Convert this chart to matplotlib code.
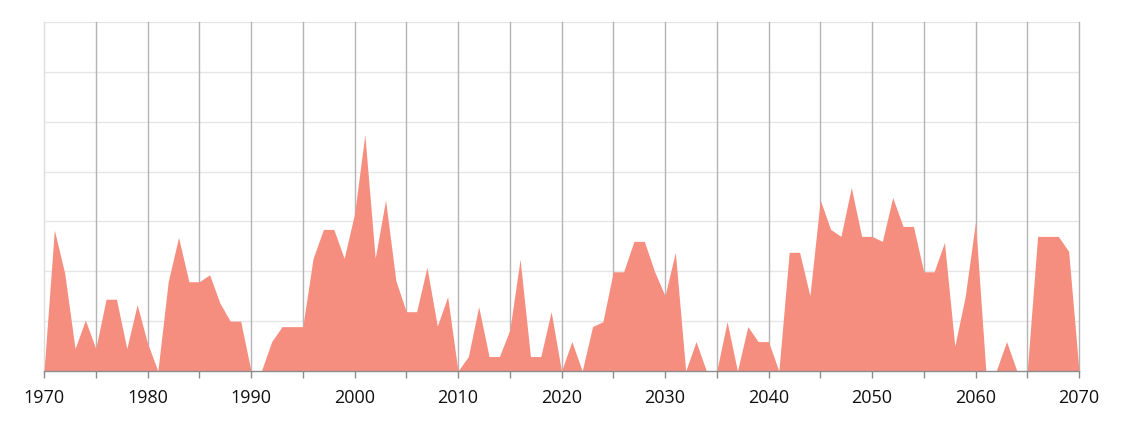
"""Yearly area chart, 1970-2070"""

import numpy as np
from matplotlib import pyplot as plt


years = np.arange(1970, 2071)

# values in grid units (one horizontal gridline = 10)
values = [
    0.0, 28.3, 19.6, 4.5, 10.2, 4.5, 14.4, 14.4, 4.5, 13.3,
    5.6, 0.0, 17.9, 26.8, 17.9, 17.9, 19.3, 13.6, 10.0, 10.0,
    0.0, 0.0, 5.9, 8.9, 8.9, 8.9, 22.6, 28.4, 28.4, 22.6,
    31.5, 47.4, 22.6, 34.3, 18.1, 11.9, 11.9, 20.8, 9.0, 14.9,
    0.0, 2.9, 12.9, 2.9, 2.9, 8.2, 22.4, 2.9, 2.9, 11.9,
    0.0, 5.9, 0.0, 8.9, 9.9, 19.9, 19.9, 26.0, 26.0, 19.9,
    15.1, 23.8, 0.0, 5.9, 0.0, 0.0, 9.9, 0.0, 8.9, 5.9,
    5.9, 0.0, 23.8, 23.8, 15.1, 34.3, 28.4, 27.0, 36.8, 27.0,
    27.0, 26.0, 34.8, 29.0, 29.0, 19.9, 19.9, 25.8, 5.0, 14.9,
    29.9, 0.0, 0.0, 5.9, 0.0, 0.0, 27.0, 27.0, 27.0, 24.0,
    0.0,
]

x_ticks = np.arange(1970, 2071, 5)
x_labels = [str(y) if y % 10 == 0 else "" for y in x_ticks]
y_grid = np.arange(0, 71, 10)

plt.rcParams["font.family"] = ["Open Sans", "DejaVu Sans"]

fig = plt.figure(figsize=(11.24, 4.23), dpi=100)
axis = fig.add_axes([44 / 1124, 52 / 423, 1035 / 1124, 349 / 423])

for y_val in y_grid[1:]:
    axis.axhline(y_val, color="#e6e6e6", linewidth=1, zorder=1)
for x_val in x_ticks:
    color = "#dddddd" if x_val == 1970 else "#b4b4b4"
    axis.axvline(x_val, color=color, linewidth=1, zorder=1, clip_on=False)

axis.fill_between(years, values, 0, color="#f68e7f", linewidth=0, zorder=2)

axis.set_xlim(1970, 2070)
axis.set_ylim(0, 70)
axis.set_xticks(x_ticks)
axis.set_xticklabels(x_labels, fontsize=13, color="#111111")
axis.set_yticks([])
axis.tick_params(axis="x", length=5, width=1, color="#8c8c8c", pad=8)

for side in ("top", "left", "right"):
    axis.spines[side].set_visible(False)
axis.spines["bottom"].set_color("#8c8c8c")
axis.spines["bottom"].set_linewidth(1)
axis.spines["bottom"].set_zorder(3)

fig.savefig("out.png", dpi=100)
